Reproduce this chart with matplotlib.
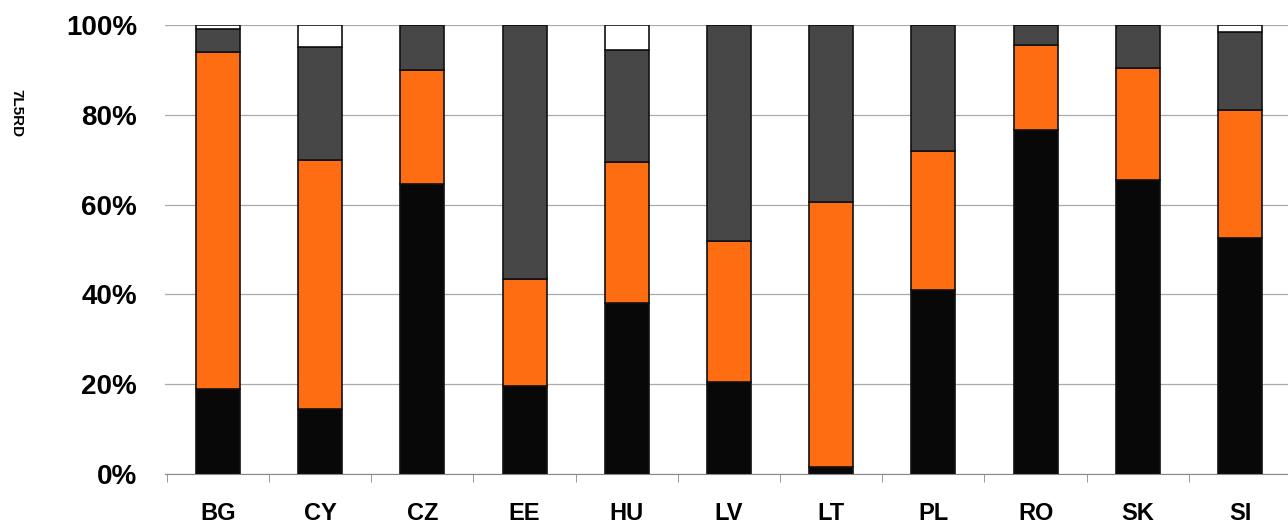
import numpy as np
import matplotlib.pyplot as plt

countries = ["BG", "CY", "CZ", "EE", "HU", "LV", "LT", "PL", "RO", "SK", "SI"]
# cumulative tops (%)
black_top = [19, 14.5, 64.5, 19.5, 38, 20.5, 1.5, 41, 76.5, 65.5, 52.5]
orange_top = [94, 70, 90, 43.5, 69.5, 52, 60.5, 72, 95.5, 90.5, 81]
gray_top = [99, 95, 100, 100, 94.5, 100, 100, 100, 100, 100, 98.5]

black = np.array(black_top)
orange = np.array(orange_top) - black
gray = np.array(gray_top) - np.array(orange_top)
white = 100 - np.array(gray_top)

fig = plt.figure(figsize=(12.88, 5.27), dpi=100)
ax = fig.add_axes([0.128, 0.1006, 0.872, 0.852])

x = np.arange(len(countries))
w = 0.43
kw = dict(width=w, edgecolor="#111111", linewidth=1.2, zorder=3)
ax.bar(x, black, color="#080808", **kw)
ax.bar(x, orange, bottom=black, color="#ff6d12", **kw)
ax.bar(x, gray, bottom=black + orange, color="#474747", **kw)
ax.bar(x, white, bottom=black + orange + gray, color="white", **kw)

ax.set_ylim(0, 100)
ax.set_xlim(-0.52, 10.47)
ax.set_yticks(np.arange(0, 101, 20))
ax.set_yticklabels([f"{v}%" for v in range(0, 101, 20)], fontsize=20, fontweight="bold",
                   family="Liberation Sans")
ax.yaxis.grid(True, color="#aaaaaa", linewidth=0.9, zorder=0)
ax.tick_params(axis="y", length=0, pad=20)

ax.set_xticks(x)
ax.set_xticklabels(countries, fontsize=17, fontweight="bold", family="Liberation Sans")
ax.tick_params(axis="x", length=0, pad=20)
ax.set_xticks(np.arange(-0.5, 10.5, 1), minor=True)
ax.tick_params(axis="x", which="minor", length=6, color="#888888", direction="out")

for s in ["top", "right", "left"]:
    ax.spines[s].set_visible(False)
ax.spines["bottom"].set_color("#888888")

fig.text(0.013, 0.786, "7L5RD", rotation=-90, fontsize=11, fontweight="bold",
         family="Liberation Sans", ha="center", va="center")

fig.savefig("out.png", dpi=100)
